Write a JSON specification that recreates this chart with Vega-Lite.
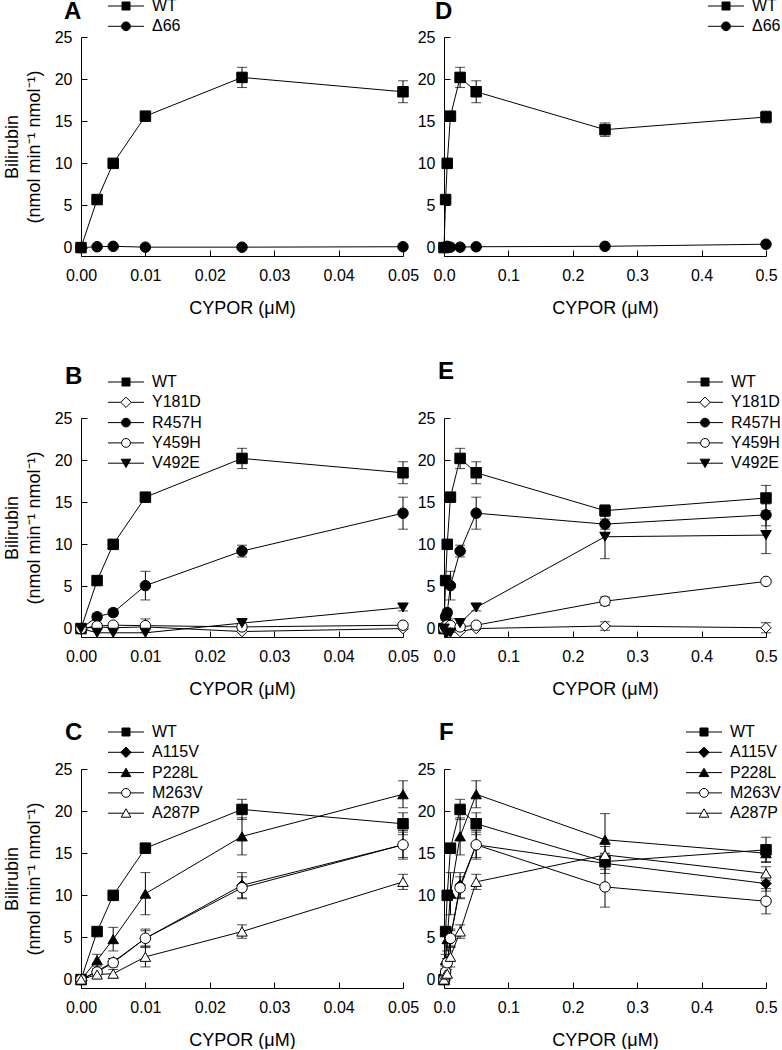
{
  "$schema": "https://vega.github.io/schema/vega-lite/v6.json",
  "padding": {"left": 3, "top": -2, "right": 0, "bottom": 0},
  "datasets": {
    "g1": [
      {"series": "WT", "x": 0, "y": 0},
      {"series": "WT", "x": 0.0025, "y": 5.7, "e": 0.3},
      {"series": "WT", "x": 0.005, "y": 10.0, "e": 0.3},
      {"series": "WT", "x": 0.01, "y": 15.6, "e": 0.5},
      {"series": "WT", "x": 0.025, "y": 20.2, "e": 1.2},
      {"series": "WT", "x": 0.05, "y": 18.5, "e": 1.3},
      {"series": "WT", "x": 0.25, "y": 14.0, "e": 0.8},
      {"series": "WT", "x": 0.5, "y": 15.5, "e": 0.7},
      {"series": "Δ66", "x": 0, "y": 0},
      {"series": "Δ66", "x": 0.0025, "y": 0.1},
      {"series": "Δ66", "x": 0.005, "y": 0.15},
      {"series": "Δ66", "x": 0.01, "y": 0.05},
      {"series": "Δ66", "x": 0.025, "y": 0.05},
      {"series": "Δ66", "x": 0.05, "y": 0.1},
      {"series": "Δ66", "x": 0.25, "y": 0.15},
      {"series": "Δ66", "x": 0.5, "y": 0.4}
    ],
    "g2": [
      {"series": "WT", "x": 0, "y": 0},
      {"series": "WT", "x": 0.0025, "y": 5.7, "e": 0.3},
      {"series": "WT", "x": 0.005, "y": 10.0, "e": 0.3},
      {"series": "WT", "x": 0.01, "y": 15.6, "e": 0.5},
      {"series": "WT", "x": 0.025, "y": 20.2, "e": 1.2},
      {"series": "WT", "x": 0.05, "y": 18.5, "e": 1.3},
      {"series": "WT", "x": 0.25, "y": 14.0, "e": 0.7},
      {"series": "WT", "x": 0.5, "y": 15.5, "e": 1.5},
      {"series": "Y181D", "x": 0, "y": 0},
      {"series": "Y181D", "x": 0.0025, "y": 0.2, "e": 0.3},
      {"series": "Y181D", "x": 0.005, "y": 0.1},
      {"series": "Y181D", "x": 0.01, "y": 0.2},
      {"series": "Y181D", "x": 0.025, "y": -0.35},
      {"series": "Y181D", "x": 0.05, "y": 0.0},
      {"series": "Y181D", "x": 0.25, "y": 0.3, "e": 0.5},
      {"series": "Y181D", "x": 0.5, "y": 0.1, "e": 0.6},
      {"series": "R457H", "x": 0, "y": 0},
      {"series": "R457H", "x": 0.0025, "y": 1.4, "e": 0.4},
      {"series": "R457H", "x": 0.005, "y": 1.9, "e": 0.4},
      {"series": "R457H", "x": 0.01, "y": 5.1, "e": 1.7},
      {"series": "R457H", "x": 0.025, "y": 9.2, "e": 0.7},
      {"series": "R457H", "x": 0.05, "y": 13.7, "e": 1.9},
      {"series": "R457H", "x": 0.25, "y": 12.4, "e": 0.6},
      {"series": "R457H", "x": 0.5, "y": 13.5, "e": 1.3},
      {"series": "Y459H", "x": 0, "y": 0},
      {"series": "Y459H", "x": 0.0025, "y": 0.3, "e": 0.3},
      {"series": "Y459H", "x": 0.005, "y": 0.4},
      {"series": "Y459H", "x": 0.01, "y": 0.35, "e": 0.8},
      {"series": "Y459H", "x": 0.025, "y": 0.2},
      {"series": "Y459H", "x": 0.05, "y": 0.4},
      {"series": "Y459H", "x": 0.25, "y": 3.25, "e": 0.5},
      {"series": "Y459H", "x": 0.5, "y": 5.6},
      {"series": "V492E", "x": 0, "y": 0},
      {"series": "V492E", "x": 0.0025, "y": -0.5},
      {"series": "V492E", "x": 0.005, "y": -0.5},
      {"series": "V492E", "x": 0.01, "y": -0.5},
      {"series": "V492E", "x": 0.025, "y": 0.65},
      {"series": "V492E", "x": 0.05, "y": 2.5, "e": 0.4},
      {"series": "V492E", "x": 0.25, "y": 10.9, "e": 2.6},
      {"series": "V492E", "x": 0.5, "y": 11.1, "e": 2.2}
    ],
    "g3": [
      {"series": "WT", "x": 0, "y": 0},
      {"series": "WT", "x": 0.0025, "y": 5.7, "e": 0.3},
      {"series": "WT", "x": 0.005, "y": 10.0, "e": 0.3},
      {"series": "WT", "x": 0.01, "y": 15.6, "e": 0.5},
      {"series": "WT", "x": 0.025, "y": 20.2, "e": 1.2},
      {"series": "WT", "x": 0.05, "y": 18.5, "e": 1.3},
      {"series": "WT", "x": 0.25, "y": 14.0, "e": 0.9},
      {"series": "WT", "x": 0.5, "y": 15.4, "e": 1.5},
      {"series": "A115V", "x": 0, "y": 0},
      {"series": "A115V", "x": 0.0025, "y": 1.0, "e": 0.3},
      {"series": "A115V", "x": 0.005, "y": 2.1, "e": 0.4},
      {"series": "A115V", "x": 0.01, "y": 4.9, "e": 0.9},
      {"series": "A115V", "x": 0.025, "y": 11.2, "e": 1.5},
      {"series": "A115V", "x": 0.05, "y": 16.0, "e": 1.5},
      {"series": "A115V", "x": 0.25, "y": 13.8, "e": 1.2},
      {"series": "A115V", "x": 0.5, "y": 11.4, "e": 0.9},
      {"series": "P228L", "x": 0, "y": 0},
      {"series": "P228L", "x": 0.0025, "y": 2.3, "e": 0.7},
      {"series": "P228L", "x": 0.005, "y": 4.8, "e": 1.4},
      {"series": "P228L", "x": 0.01, "y": 10.2, "e": 2.5},
      {"series": "P228L", "x": 0.025, "y": 17.0, "e": 2.2},
      {"series": "P228L", "x": 0.05, "y": 22.0, "e": 1.6},
      {"series": "P228L", "x": 0.25, "y": 16.6, "e": 3.1},
      {"series": "P228L", "x": 0.5, "y": 15.0, "e": 1.0},
      {"series": "M263V", "x": 0, "y": 0},
      {"series": "M263V", "x": 0.0025, "y": 0.9, "e": 0.3},
      {"series": "M263V", "x": 0.005, "y": 2.0, "e": 0.5},
      {"series": "M263V", "x": 0.01, "y": 4.9, "e": 1.1},
      {"series": "M263V", "x": 0.025, "y": 10.9, "e": 1.3},
      {"series": "M263V", "x": 0.05, "y": 16.0, "e": 1.7},
      {"series": "M263V", "x": 0.25, "y": 11.0, "e": 2.4},
      {"series": "M263V", "x": 0.5, "y": 9.3, "e": 1.5},
      {"series": "A287P", "x": 0, "y": 0},
      {"series": "A287P", "x": 0.0025, "y": 0.6, "e": 0.3},
      {"series": "A287P", "x": 0.005, "y": 0.7, "e": 0.5},
      {"series": "A287P", "x": 0.01, "y": 2.7, "e": 1.2},
      {"series": "A287P", "x": 0.025, "y": 5.7, "e": 0.8},
      {"series": "A287P", "x": 0.05, "y": 11.6, "e": 0.9},
      {"series": "A287P", "x": 0.25, "y": 14.8, "e": 1.0},
      {"series": "A287P", "x": 0.5, "y": 12.6, "e": 0.8}
    ]
  },
  "config": {
    "view": {"stroke": null},
    "font": "Liberation Sans",
    "axis": {
      "grid": false, "domainColor": "black", "tickColor": "black", "tickSize": -6,
      "domainWidth": 1, "tickWidth": 1,
      "labelFont": "Liberation Sans", "labelFontSize": 16, "labelColor": "black",
      "labelFlush": false, "labelOverlap": false,
      "titleFont": "Liberation Sans", "titleFontSize": 18, "titleFontWeight": "normal", "titleColor": "black"
    },
    "axisX": {"labelPadding": 17, "titlePadding": 16},
    "axisY": {"labelPadding": 15, "titlePadding": 11, "titleLineHeight": 22},
    "title": {"font": "Liberation Sans", "fontSize": 24, "fontWeight": "bold", "color": "black", "anchor": "start", "frame": "group", "offset": 0},
    "legend": {
      "title": null, "symbolSize": 64, "symbolStrokeWidth": 1, "symbolStrokeColor": "black",
      "symbolOpacity": 1, "symbolOffset": 10, "labelOffset": 18, "labelFont": "Liberation Sans",
      "labelFontSize": 16, "labelColor": "black", "rowPadding": 4.3, "padding": 0
    }
  },
  "columns": 2,
  "spacing": {"row": 0, "column": 41},
  "bounds": "flush",
  "concat": [
    {
      "width": 322, "height": 219,
      "data": {"name": "g1"},
      "transform": [{"filter": "datum.x <= 0.05"}],
      "title": {"text": "A", "dx": -17, "dy": 30},
      "encoding": {
        "x": {"field": "x", "type": "quantitative", "scale": {"domain": [0, 0.05], "nice": false, "zero": false}, "axis": {"values": [0, 0.01, 0.02, 0.03, 0.04, 0.05], "format": ".2f", "title": "CYPOR (μM)"}},
        "y": {"field": "y", "type": "quantitative", "scale": {"domain": [-1, 25], "nice": false, "zero": false}, "axis": {"values": [0, 5, 10, 15, 20, 25], "title": ["Bilirubin", "(nmol min⁻¹ nmol⁻¹)"]}}
      },
      "layer": [
        {"transform": [{"filter": "datum.e > 0"}], "mark": {"type": "errorbar", "color": "black", "thickness": 1, "ticks": {"size": 10}}, "encoding": {"yError": {"field": "e"}}},
        {"mark": {"type": "line", "color": "black", "strokeWidth": 1}, "encoding": {"detail": {"field": "series"}}},
        {"mark": {"type": "point", "filled": true, "stroke": "black", "strokeWidth": 1, "size": 110, "opacity": 1},
         "encoding": {
           "shape": {"field": "series", "scale": {"domain": ["WT", "Δ66"], "range": ["square", "circle"]}, "legend": null},
           "fill": {"field": "series", "scale": {"domain": ["WT", "Δ66"], "range": ["black", "black"]}, "legend": null}}},
        {"transform": [{"filter": "false"}], "mark": {"type": "point", "filled": true, "stroke": "black", "strokeWidth": 1},
         "encoding": {
           "shape": {"field": "series", "scale": {"domain": ["WT", "Δ66"], "range": ["M-4.5,0H4.5M-1,-1H1V1H-1Z", "M-4.5,0H4.5M-1.1,0C-1.1,-0.61,-0.61,-1.1,0,-1.1C0.61,-1.1,1.1,-0.61,1.1,0C1.1,0.61,0.61,1.1,0,1.1C-0.61,1.1,-1.1,0.61,-1.1,0Z"]}, "legend": {"orient": "none", "legendX": 27, "legendY": -39, "encode": {"symbols": {"update": {"stroke": {"value": "black"}, "strokeWidth": {"value": 1}}}}}},
           "fill": {"field": "series", "scale": {"domain": ["WT", "Δ66"], "range": ["black", "black"]}, "legend": {"orient": "none", "legendX": 27, "legendY": -39, "encode": {"symbols": {"update": {"stroke": {"value": "black"}, "strokeWidth": {"value": 1}}}}}}}}
      ],
      "resolve": {"scale": {"shape": "independent", "fill": "independent"}}
    },
    {
      "width": 322, "height": 219,
      "data": {"name": "g1"},
      "title": {"text": "D", "dx": -9, "dy": 30},
      "encoding": {
        "x": {"field": "x", "type": "quantitative", "scale": {"domain": [0, 0.5], "nice": false, "zero": false}, "axis": {"values": [0, 0.1, 0.2, 0.3, 0.4, 0.5], "format": ".1f", "title": "CYPOR (μM)"}},
        "y": {"field": "y", "type": "quantitative", "scale": {"domain": [-1, 25], "nice": false, "zero": false}, "axis": {"values": [0, 5, 10, 15, 20, 25], "title": null}}
      },
      "layer": [
        {"transform": [{"filter": "datum.e > 0"}], "mark": {"type": "errorbar", "color": "black", "thickness": 1, "ticks": {"size": 10}}, "encoding": {"yError": {"field": "e"}}},
        {"mark": {"type": "line", "color": "black", "strokeWidth": 1}, "encoding": {"detail": {"field": "series"}}},
        {"mark": {"type": "point", "filled": true, "stroke": "black", "strokeWidth": 1, "size": 110, "opacity": 1},
         "encoding": {
           "shape": {"field": "series", "scale": {"domain": ["WT", "Δ66"], "range": ["square", "circle"]}, "legend": null},
           "fill": {"field": "series", "scale": {"domain": ["WT", "Δ66"], "range": ["black", "black"]}, "legend": null}}},
        {"transform": [{"filter": "false"}], "mark": {"type": "point", "filled": true, "stroke": "black", "strokeWidth": 1},
         "encoding": {
           "shape": {"field": "series", "scale": {"domain": ["WT", "Δ66"], "range": ["M-4.5,0H4.5M-1,-1H1V1H-1Z", "M-4.5,0H4.5M-1.1,0C-1.1,-0.61,-0.61,-1.1,0,-1.1C0.61,-1.1,1.1,-0.61,1.1,0C1.1,0.61,0.61,1.1,0,1.1C-0.61,1.1,-1.1,0.61,-1.1,0Z"]}, "legend": {"orient": "none", "legendX": 264, "legendY": -39, "encode": {"symbols": {"update": {"stroke": {"value": "black"}, "strokeWidth": {"value": 1}}}}}},
           "fill": {"field": "series", "scale": {"domain": ["WT", "Δ66"], "range": ["black", "black"]}, "legend": {"orient": "none", "legendX": 264, "legendY": -39, "encode": {"symbols": {"update": {"stroke": {"value": "black"}, "strokeWidth": {"value": 1}}}}}}}}
      ],
      "resolve": {"scale": {"shape": "independent", "fill": "independent"}}
    },
    {"width": 322, "height": 162, "data": {"values": []}, "mark": "point"},
    {"width": 322, "height": 162, "data": {"values": []}, "mark": "point"},
    {
      "width": 322, "height": 219,
      "data": {"name": "g2"},
      "transform": [{"filter": "datum.x <= 0.05"}],
      "title": {"text": "B", "dx": -16, "dy": 19},
      "encoding": {
        "x": {"field": "x", "type": "quantitative", "scale": {"domain": [0, 0.05], "nice": false, "zero": false}, "axis": {"values": [0, 0.01, 0.02, 0.03, 0.04, 0.05], "format": ".2f", "title": "CYPOR (μM)"}},
        "y": {"field": "y", "type": "quantitative", "scale": {"domain": [-1, 25], "nice": false, "zero": false}, "axis": {"values": [0, 5, 10, 15, 20, 25], "title": ["Bilirubin", "(nmol min⁻¹ nmol⁻¹)"]}}
      },
      "layer": [
        {"transform": [{"filter": "datum.e > 0"}], "mark": {"type": "errorbar", "color": "black", "thickness": 1, "ticks": {"size": 10}}, "encoding": {"yError": {"field": "e"}}},
        {"mark": {"type": "line", "color": "black", "strokeWidth": 1}, "encoding": {"detail": {"field": "series"}}},
        {"mark": {"type": "point", "filled": true, "stroke": "black", "strokeWidth": 1, "size": 110, "opacity": 1},
         "encoding": {
           "shape": {"field": "series", "scale": {"domain": ["WT", "Y181D", "R457H", "Y459H", "V492E"], "range": ["square", "diamond", "circle", "circle", "triangle-down"]}, "legend": null},
           "fill": {"field": "series", "scale": {"domain": ["WT", "Y181D", "R457H", "Y459H", "V492E"], "range": ["black", "white", "black", "white", "black"]}, "legend": null}}},
        {"transform": [{"filter": "false"}], "mark": {"type": "point", "filled": true, "stroke": "black", "strokeWidth": 1},
         "encoding": {
           "shape": {"field": "series", "scale": {"domain": ["WT", "Y181D", "R457H", "Y459H", "V492E"], "range": ["M-4.5,0H4.5M-1,-1H1V1H-1Z", "M-4.5,0H-1.3M1.3,0H4.5M0,-1.3L1.3,0L0,1.3L-1.3,0Z", "M-4.5,0H4.5M-1.1,0C-1.1,-0.61,-0.61,-1.1,0,-1.1C0.61,-1.1,1.1,-0.61,1.1,0C1.1,0.61,0.61,1.1,0,1.1C-0.61,1.1,-1.1,0.61,-1.1,0Z", "M-4.5,0H-1.1M1.1,0H4.5M-1.1,0C-1.1,-0.61,-0.61,-1.1,0,-1.1C0.61,-1.1,1.1,-0.61,1.1,0C1.1,0.61,0.61,1.1,0,1.1C-0.61,1.1,-1.1,0.61,-1.1,0Z", "M-4.5,0H4.5M-1.2,-1H1.2L0,1.1Z"]}, "legend": {"orient": "none", "legendX": 27, "legendY": -44, "encode": {"symbols": {"update": {"stroke": {"value": "black"}, "strokeWidth": {"value": 1}}}}}},
           "fill": {"field": "series", "scale": {"domain": ["WT", "Y181D", "R457H", "Y459H", "V492E"], "range": ["black", "white", "black", "white", "black"]}, "legend": {"orient": "none", "legendX": 27, "legendY": -44, "encode": {"symbols": {"update": {"stroke": {"value": "black"}, "strokeWidth": {"value": 1}}}}}}}}
      ],
      "resolve": {"scale": {"shape": "independent", "fill": "independent"}}
    },
    {
      "width": 322, "height": 219,
      "data": {"name": "g2"},
      "title": {"text": "E", "dx": -6, "dy": 14},
      "encoding": {
        "x": {"field": "x", "type": "quantitative", "scale": {"domain": [0, 0.5], "nice": false, "zero": false}, "axis": {"values": [0, 0.1, 0.2, 0.3, 0.4, 0.5], "format": ".1f", "title": "CYPOR (μM)"}},
        "y": {"field": "y", "type": "quantitative", "scale": {"domain": [-1, 25], "nice": false, "zero": false}, "axis": {"values": [0, 5, 10, 15, 20, 25], "title": null}}
      },
      "layer": [
        {"transform": [{"filter": "datum.e > 0"}], "mark": {"type": "errorbar", "color": "black", "thickness": 1, "ticks": {"size": 10}}, "encoding": {"yError": {"field": "e"}}},
        {"mark": {"type": "line", "color": "black", "strokeWidth": 1}, "encoding": {"detail": {"field": "series"}}},
        {"mark": {"type": "point", "filled": true, "stroke": "black", "strokeWidth": 1, "size": 110, "opacity": 1},
         "encoding": {
           "shape": {"field": "series", "scale": {"domain": ["WT", "Y181D", "R457H", "Y459H", "V492E"], "range": ["square", "diamond", "circle", "circle", "triangle-down"]}, "legend": null},
           "fill": {"field": "series", "scale": {"domain": ["WT", "Y181D", "R457H", "Y459H", "V492E"], "range": ["black", "white", "black", "white", "black"]}, "legend": null}}},
        {"transform": [{"filter": "false"}], "mark": {"type": "point", "filled": true, "stroke": "black", "strokeWidth": 1},
         "encoding": {
           "shape": {"field": "series", "scale": {"domain": ["WT", "Y181D", "R457H", "Y459H", "V492E"], "range": ["M-4.5,0H4.5M-1,-1H1V1H-1Z", "M-4.5,0H-1.3M1.3,0H4.5M0,-1.3L1.3,0L0,1.3L-1.3,0Z", "M-4.5,0H4.5M-1.1,0C-1.1,-0.61,-0.61,-1.1,0,-1.1C0.61,-1.1,1.1,-0.61,1.1,0C1.1,0.61,0.61,1.1,0,1.1C-0.61,1.1,-1.1,0.61,-1.1,0Z", "M-4.5,0H-1.1M1.1,0H4.5M-1.1,0C-1.1,-0.61,-0.61,-1.1,0,-1.1C0.61,-1.1,1.1,-0.61,1.1,0C1.1,0.61,0.61,1.1,0,1.1C-0.61,1.1,-1.1,0.61,-1.1,0Z", "M-4.5,0H4.5M-1.2,-1H1.2L0,1.1Z"]}, "legend": {"orient": "none", "legendX": 243, "legendY": -44, "encode": {"symbols": {"update": {"stroke": {"value": "black"}, "strokeWidth": {"value": 1}}}}}},
           "fill": {"field": "series", "scale": {"domain": ["WT", "Y181D", "R457H", "Y459H", "V492E"], "range": ["black", "white", "black", "white", "black"]}, "legend": {"orient": "none", "legendX": 243, "legendY": -44, "encode": {"symbols": {"update": {"stroke": {"value": "black"}, "strokeWidth": {"value": 1}}}}}}}}
      ],
      "resolve": {"scale": {"shape": "independent", "fill": "independent"}}
    },
    {"width": 322, "height": 132, "data": {"values": []}, "mark": "point"},
    {"width": 322, "height": 132, "data": {"values": []}, "mark": "point"},
    {
      "width": 322, "height": 219,
      "data": {"name": "g3"},
      "transform": [{"filter": "datum.x <= 0.05"}],
      "title": {"text": "C", "dx": -16, "dy": 25},
      "encoding": {
        "x": {"field": "x", "type": "quantitative", "scale": {"domain": [0, 0.05], "nice": false, "zero": false}, "axis": {"values": [0, 0.01, 0.02, 0.03, 0.04, 0.05], "format": ".2f", "title": "CYPOR (μM)"}},
        "y": {"field": "y", "type": "quantitative", "scale": {"domain": [-1, 25], "nice": false, "zero": false}, "axis": {"values": [0, 5, 10, 15, 20, 25], "title": ["Bilirubin", "(nmol min⁻¹ nmol⁻¹)"]}}
      },
      "layer": [
        {"transform": [{"filter": "datum.e > 0"}], "mark": {"type": "errorbar", "color": "black", "thickness": 1, "ticks": {"size": 10}}, "encoding": {"yError": {"field": "e"}}},
        {"mark": {"type": "line", "color": "black", "strokeWidth": 1}, "encoding": {"detail": {"field": "series"}}},
        {"mark": {"type": "point", "filled": true, "stroke": "black", "strokeWidth": 1, "size": 110, "opacity": 1},
         "encoding": {
           "shape": {"field": "series", "scale": {"domain": ["WT", "A115V", "P228L", "M263V", "A287P"], "range": ["square", "diamond", "triangle-up", "circle", "triangle-up"]}, "legend": null},
           "fill": {"field": "series", "scale": {"domain": ["WT", "A115V", "P228L", "M263V", "A287P"], "range": ["black", "black", "black", "white", "white"]}, "legend": null}}},
        {"transform": [{"filter": "false"}], "mark": {"type": "point", "filled": true, "stroke": "black", "strokeWidth": 1},
         "encoding": {
           "shape": {"field": "series", "scale": {"domain": ["WT", "A115V", "P228L", "M263V", "A287P"], "range": ["M-4.5,0H4.5M-1,-1H1V1H-1Z", "M-4.5,0H4.5M0,-1.3L1.3,0L0,1.3L-1.3,0Z", "M-4.5,0H4.5M0,-1.1L1.2,1H-1.2Z", "M-4.5,0H-1.1M1.1,0H4.5M-1.1,0C-1.1,-0.61,-0.61,-1.1,0,-1.1C0.61,-1.1,1.1,-0.61,1.1,0C1.1,0.61,0.61,1.1,0,1.1C-0.61,1.1,-1.1,0.61,-1.1,0Z", "M-4.5,0H-0.63M0.63,0H4.5M0,-1.1L1.2,1H-1.2Z"]}, "legend": {"orient": "none", "legendX": 27, "legendY": -45, "encode": {"symbols": {"update": {"stroke": {"value": "black"}, "strokeWidth": {"value": 1}}}}}},
           "fill": {"field": "series", "scale": {"domain": ["WT", "A115V", "P228L", "M263V", "A287P"], "range": ["black", "black", "black", "white", "white"]}, "legend": {"orient": "none", "legendX": 27, "legendY": -45, "encode": {"symbols": {"update": {"stroke": {"value": "black"}, "strokeWidth": {"value": 1}}}}}}}}
      ],
      "resolve": {"scale": {"shape": "independent", "fill": "independent"}}
    },
    {
      "width": 322, "height": 219,
      "data": {"name": "g3"},
      "title": {"text": "F", "dx": -5, "dy": 25},
      "encoding": {
        "x": {"field": "x", "type": "quantitative", "scale": {"domain": [0, 0.5], "nice": false, "zero": false}, "axis": {"values": [0, 0.1, 0.2, 0.3, 0.4, 0.5], "format": ".1f", "title": "CYPOR (μM)"}},
        "y": {"field": "y", "type": "quantitative", "scale": {"domain": [-1, 25], "nice": false, "zero": false}, "axis": {"values": [0, 5, 10, 15, 20, 25], "title": null}}
      },
      "layer": [
        {"transform": [{"filter": "datum.e > 0"}], "mark": {"type": "errorbar", "color": "black", "thickness": 1, "ticks": {"size": 10}}, "encoding": {"yError": {"field": "e"}}},
        {"mark": {"type": "line", "color": "black", "strokeWidth": 1}, "encoding": {"detail": {"field": "series"}}},
        {"mark": {"type": "point", "filled": true, "stroke": "black", "strokeWidth": 1, "size": 110, "opacity": 1},
         "encoding": {
           "shape": {"field": "series", "scale": {"domain": ["WT", "A115V", "P228L", "M263V", "A287P"], "range": ["square", "diamond", "triangle-up", "circle", "triangle-up"]}, "legend": null},
           "fill": {"field": "series", "scale": {"domain": ["WT", "A115V", "P228L", "M263V", "A287P"], "range": ["black", "black", "black", "white", "white"]}, "legend": null}}},
        {"transform": [{"filter": "false"}], "mark": {"type": "point", "filled": true, "stroke": "black", "strokeWidth": 1},
         "encoding": {
           "shape": {"field": "series", "scale": {"domain": ["WT", "A115V", "P228L", "M263V", "A287P"], "range": ["M-4.5,0H4.5M-1,-1H1V1H-1Z", "M-4.5,0H4.5M0,-1.3L1.3,0L0,1.3L-1.3,0Z", "M-4.5,0H4.5M0,-1.1L1.2,1H-1.2Z", "M-4.5,0H-1.1M1.1,0H4.5M-1.1,0C-1.1,-0.61,-0.61,-1.1,0,-1.1C0.61,-1.1,1.1,-0.61,1.1,0C1.1,0.61,0.61,1.1,0,1.1C-0.61,1.1,-1.1,0.61,-1.1,0Z", "M-4.5,0H-0.63M0.63,0H4.5M0,-1.1L1.2,1H-1.2Z"]}, "legend": {"orient": "none", "legendX": 242, "legendY": -45, "encode": {"symbols": {"update": {"stroke": {"value": "black"}, "strokeWidth": {"value": 1}}}}}},
           "fill": {"field": "series", "scale": {"domain": ["WT", "A115V", "P228L", "M263V", "A287P"], "range": ["black", "black", "black", "white", "white"]}, "legend": {"orient": "none", "legendX": 242, "legendY": -45, "encode": {"symbols": {"update": {"stroke": {"value": "black"}, "strokeWidth": {"value": 1}}}}}}}}
      ],
      "resolve": {"scale": {"shape": "independent", "fill": "independent"}}
    }
  ]
}
